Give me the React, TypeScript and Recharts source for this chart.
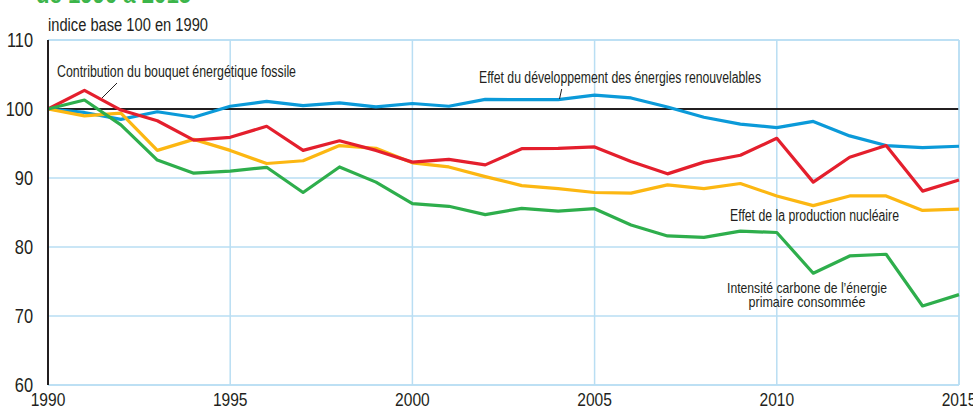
import React from 'react';
import { LineChart, Line, XAxis, YAxis, CartesianGrid, ReferenceLine } from 'recharts';

const years = [1990, 1991, 1992, 1993, 1994, 1995, 1996, 1997, 1998, 1999, 2000, 2001, 2002, 2003, 2004, 2005, 2006, 2007, 2008, 2009, 2010, 2011, 2012, 2013, 2014, 2015];
const renouvelables = [100, 99.5, 98.5, 99.6, 98.8, 100.4, 101.1, 100.5, 100.9, 100.3, 100.8, 100.4, 101.4, 101.35, 101.35, 102.0, 101.6, 100.3, 98.8, 97.8, 97.3, 98.2, 96.1, 94.7, 94.4, 94.6];
const fossile = [100, 102.7, 99.85, 98.3, 95.5, 95.9, 97.5, 94.0, 95.4, 94.0, 92.3, 92.7, 91.9, 94.25, 94.3, 94.5, 92.4, 90.6, 92.3, 93.3, 95.75, 89.4, 93.0, 94.7, 88.1, 89.7];
const nucleaire = [100, 99.0, 99.4, 94.0, 95.6, 94.0, 92.1, 92.5, 94.7, 94.3, 92.2, 91.6, 90.2, 88.9, 88.45, 87.9, 87.8, 89.0, 88.45, 89.2, 87.4, 86.0, 87.4, 87.4, 85.3, 85.5];
const intensite = [100, 101.3, 97.7, 92.6, 90.7, 91.0, 91.55, 87.9, 91.6, 89.4, 86.3, 85.9, 84.7, 85.6, 85.2, 85.55, 83.2, 81.6, 81.4, 82.3, 82.1, 76.2, 78.7, 78.95, 71.45, 73.1];
const xTicks = [1990, 1995, 2000, 2005, 2010, 2015];
const yTicks = [60, 70, 80, 90, 100, 110];

const data = years.map((y, i) => ({
  year: y,
  renouvelables: renouvelables[i],
  fossile: fossile[i],
  nucleaire: nucleaire[i],
  intensite: intensite[i],
}));

const FONT = '"Liberation Sans", Arial, sans-serif';
const TEXT = '#231f20';
const SX = 0.82;

const XTick = (props: any) => {
  const { x, y, payload } = props;
  return (
    <g transform={`translate(${x},${y})`}>
      <text transform={`scale(${SX},1)`} x={0} y={0} dy="0.71em" textAnchor="middle" fill={TEXT} fontSize={19} fontFamily={FONT}>
        {payload.value}
      </text>
    </g>
  );
};

const YTick = (props: any) => {
  const { x, y, payload } = props;
  return (
    <g transform={`translate(${x},${y})`}>
      <text transform={`scale(${SX},1)`} x={0} y={0} dy="0.355em" textAnchor="end" fill={TEXT} fontSize={20} fontFamily={FONT}>
        {payload.value}
      </text>
    </g>
  );
};

const T = (p: { x: number; y: number; w: number; size?: number; anchor?: string; children: string }) => (
  <text
    x={p.x}
    y={p.y}
    textLength={p.w}
    lengthAdjust="spacingAndGlyphs"
    fill={TEXT}
    fontSize={p.size ?? 16}
    fontFamily={FONT}
    textAnchor={p.anchor ?? 'start'}
  >
    {p.children}
  </text>
);

export default function App() {
  return (
    <div style={{ position: 'absolute', left: 0, top: 0, width: 973, height: 412, background: '#fff' }}>
      <LineChart width={973} height={412} data={data} margin={{ top: 40, right: 14, left: 0, bottom: 0 }}>
        <CartesianGrid stroke="#b9def3" strokeWidth={1.5} horizontal vertical />
        <XAxis
          dataKey="year"
          type="number"
          domain={[1990, 2015]}
          ticks={xTicks}
          height={27}
          tickLine={false}
          axisLine={{ stroke: '#b9def3', strokeWidth: 1.5 }}
          tick={<XTick />}
          tickMargin={2}
          interval={0}
        />
        <YAxis
          type="number"
          domain={[60, 110]}
          ticks={yTicks}
          width={48}
          tickLine={false}
          axisLine={{ stroke: '#231f20', strokeWidth: 2 }}
          tick={<YTick />}
          tickMargin={9}
          interval={0}
        />
        <ReferenceLine y={100} stroke="#231f20" strokeWidth={2} />
        <ReferenceLine y={110} stroke="#b9def3" strokeWidth={1.5} />
        <ReferenceLine x={2015} stroke="#b9def3" strokeWidth={1.5} />
        <Line dataKey="renouvelables" stroke="#0b9ad9" strokeWidth={3.2} dot={false} isAnimationActive={false} strokeLinejoin="round" />
        <Line dataKey="nucleaire" stroke="#fcb712" strokeWidth={3.2} dot={false} isAnimationActive={false} strokeLinejoin="round" />
        <Line dataKey="fossile" stroke="#e41f2d" strokeWidth={3.2} dot={false} isAnimationActive={false} strokeLinejoin="round" />
        <Line dataKey="intensite" stroke="#2eae4c" strokeWidth={3.2} dot={false} isAnimationActive={false} strokeLinejoin="round" />
      </LineChart>
      <svg width={973} height={412} style={{ position: 'absolute', left: 0, top: 0, pointerEvents: 'none' }}>
        <text x={36} y={3} textLength={155} lengthAdjust="spacingAndGlyphs" fill="#3cb54a" fontSize={26} fontWeight="bold" fontFamily={FONT}>de 1990 à 2015</text>
        <T x={48} y={31} w={160} size={18}>indice base 100 en 1990</T>
        <T x={57} y={77} w={239}>Contribution du bouquet énergétique fossile</T>
        <line x1={117} y1={83} x2={102} y2={98} stroke={TEXT} strokeWidth={1} />
        <T x={479} y={83} w={282}>Effet du développement des énergies renouvelables</T>
        <line x1={561.7} y1={89} x2={559.5} y2={99} stroke={TEXT} strokeWidth={1} />
        <T x={730} y={221} w={169}>Effet de la production nucléaire</T>
        <T x={807} y={293} w={160} size={15} anchor="middle">Intensité carbone de l’énergie</T>
        <T x={807} y={307} w={117} size={15} anchor="middle">primaire consommée</T>
      </svg>
    </div>
  );
}
